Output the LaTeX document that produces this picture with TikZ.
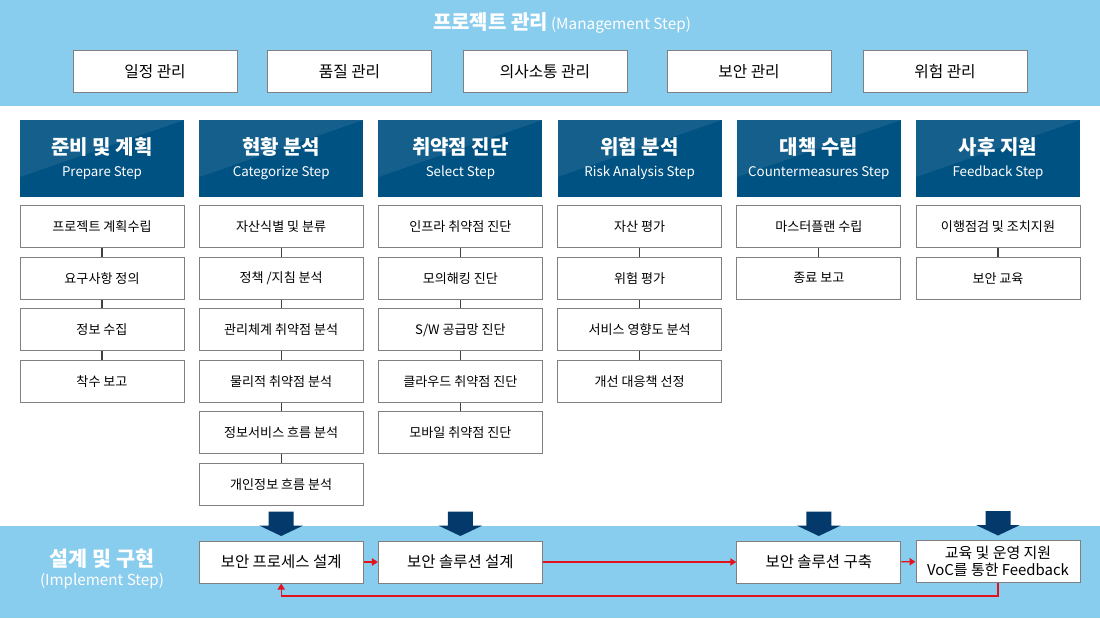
\documentclass[tikz,border=0pt]{standalone}
\usepackage{fontspec}
\setmainfont{Noto Sans CJK KR}
\usetikzlibrary{positioning,arrows.meta}

\definecolor{bandblue}{RGB}{136,204,238}
\definecolor{stepblue}{RGB}{0,82,130}
\definecolor{arrowblue}{RGB}{4,58,107}
\definecolor{linegray}{RGB}{128,128,128}
\definecolor{flowred}{RGB}{228,18,28}

\newcommand{\steptitle}[2]{{\fontsize{15}{17}\selectfont\bfseries #1}\\[4.5pt]{\fontsize{10}{12}\selectfont #2}}

\tikzset{
  mgmt/.style={draw=linegray, fill=white, line width=0.75pt, minimum width=123pt,
    minimum height=32pt, inner sep=0pt, font=\fontsize{11.8}{13}\selectfont},
  stephead/.style={fill=stepblue, minimum width=123pt, minimum height=57.75pt, inner sep=0pt,
    text=white, align=center,
    path picture={\fill[white, opacity=0.08] (path picture bounding box.north west)
      -- (path picture bounding box.north east)
      -- ([yshift=15pt]path picture bounding box.south west) -- cycle;}},
  task/.style={draw=linegray, fill=white, line width=0.75pt, minimum width=123pt,
    minimum height=31.5pt, inner sep=0pt, font=\fontsize{9.8}{11}\selectfont},
  impl/.style={task, font=\fontsize{11.6}{13.2}\selectfont, align=center},
  link/.style={draw=black!75, line width=0.9pt},
  flow/.style={draw=flowred, line width=0.9pt, -{Triangle[length=4.5pt,width=5.5pt]}},
}

\begin{document}
\begin{tikzpicture}[x=0.75pt, y=-0.75pt, node distance=6.4pt]
    \useasboundingbox (0,0) rectangle (1100,618);

    % management band
    \fill[bandblue] (0,0) rectangle (1100,106);
    \node[text=white] (mgmttitle) at (562,23) {{\fontsize{15}{17}\selectfont\bfseries 프로젝트 관리} {\fontsize{11.5}{13}\selectfont(Management Step)}};
    \node[mgmt] (sched) at (155,71.5) {일정 관리};
    \node[mgmt] (qual) at (349.5,71.5) {품질 관리};
    \node[mgmt] (comm) at (545,71.5) {의사소통 관리};
    \node[mgmt] (sec) at (749,71.5) {보안 관리};
    \node[mgmt] (riskm) at (945,71.5) {위험 관리};

    % step headers
    \node[stephead] (prep) at (102,158.5) {\steptitle{준비 및 계획}{Prepare Step}};
    \node[stephead] (categ) at (281.2,158.5) {\steptitle{현황 분석}{Categorize Step}};
    \node[stephead] (select) at (460.4,158.5) {\steptitle{취약점 진단}{Select Step}};
    \node[stephead] (risk) at (639.6,158.5) {\steptitle{위험 분석}{Risk Analysis Step}};
    \node[stephead] (counter) at (818.8,158.5) {\steptitle{대책 수립}{Countermeasures Step}};
    \node[stephead] (feedback) at (998,158.5) {\steptitle{사후 지원}{Feedback Step}};

    % prepare
    \node[task, below=6pt of prep] (prep1) {프로젝트 계획수립};
    \node[task, below=of prep1] (prep2) {요구사항 정의};
    \node[task, below=of prep2] (prep3) {정보 수집};
    \node[task, below=of prep3] (prep4) {착수 보고};
    \draw[link] (prep1) -- (prep2);
    \draw[link] (prep2) -- (prep3);
    \draw[link] (prep3) -- (prep4);

    % categorize
    \node[task, below=6pt of categ] (categ1) {자산식별 및 분류};
    \node[task, below=of categ1] (categ2) {정책 /지침 분석};
    \node[task, below=of categ2] (categ3) {관리체계 취약점 분석};
    \node[task, below=of categ3] (categ4) {물리적 취약점 분석};
    \node[task, below=of categ4] (categ5) {정보서비스 흐름 분석};
    \node[task, below=of categ5] (categ6) {개인정보 흐름 분석};
    \draw[link] (categ1) -- (categ2);
    \draw[link] (categ2) -- (categ3);
    \draw[link] (categ3) -- (categ4);
    \draw[link] (categ4) -- (categ5);
    \draw[link] (categ5) -- (categ6);

    % select
    \node[task, below=6pt of select] (select1) {인프라 취약점 진단};
    \node[task, below=of select1] (select2) {모의해킹 진단};
    \node[task, below=of select2] (select3) {S/W 공급망 진단};
    \node[task, below=of select3] (select4) {클라우드 취약점 진단};
    \node[task, below=of select4] (select5) {모바일 취약점 진단};
    \draw[link] (select1) -- (select2);
    \draw[link] (select2) -- (select3);
    \draw[link] (select3) -- (select4);
    \draw[link] (select4) -- (select5);

    % risk analysis
    \node[task, below=6pt of risk] (risk1) {자산 평가};
    \node[task, below=of risk1] (risk2) {위험 평가};
    \node[task, below=of risk2] (risk3) {서비스 영향도 분석};
    \node[task, below=of risk3] (risk4) {개선 대응책 선정};
    \draw[link] (risk1) -- (risk2);
    \draw[link] (risk2) -- (risk3);
    \draw[link] (risk3) -- (risk4);

    % countermeasures
    \node[task, below=6pt of counter] (counter1) {마스터플랜 수립};
    \node[task, below=of counter1] (counter2) {종료 보고};
    \draw[link] (counter1) -- (counter2);

    % feedback
    \node[task, below=6pt of feedback] (feedback1) {이행점검 및 조치지원};
    \node[task, below=of feedback1] (feedback2) {보안 교육};
    \draw[link] (feedback1) -- (feedback2);

    % implement band
    \fill[bandblue] (0,526) rectangle (1100,618);
    \node[text=white, align=center] (impltitle) at (102,569) {{\fontsize{15.5}{17}\selectfont\bfseries 설계 및 구현}\\[2pt]{\fontsize{11.4}{13}\selectfont(Implement Step)}};
    \node[impl] (bproc) at (281.2,562) {보안 프로세스 설계};
    \node[impl] (bdes) at (460.4,562) {보안 솔루션 설계};
    \node[impl] (bbuild) at (818.8,562) {보안 솔루션 구축};
    \node[impl, font=\fontsize{11.2}{12.6}\selectfont] (bedu) at (998,561.5) {교육 및 운영 지원\\VoC를 통한 Feedback};

    \foreach \b in {bproc,bdes,bbuild,bedu}
        \fill[arrowblue] ([shift={(-12.5,-29)}]\b.north) -- ([shift={(12.5,-29)}]\b.north)
            -- ([shift={(12.5,-15)}]\b.north) -- ([shift={(22,-15)}]\b.north)
            -- ([shift={(0,-4.5)}]\b.north) -- ([shift={(-22,-15)}]\b.north)
            -- ([shift={(-12.5,-15)}]\b.north) -- cycle;

    \draw[flow] (bproc) -- (bdes);
    \draw[flow] (bdes) -- (bbuild);
    \draw[flow] (bbuild) -- (bedu);
    \draw[flow] (bedu.south) -- ++(0,13) -| (bproc.south);
\end{tikzpicture}
\end{document}
